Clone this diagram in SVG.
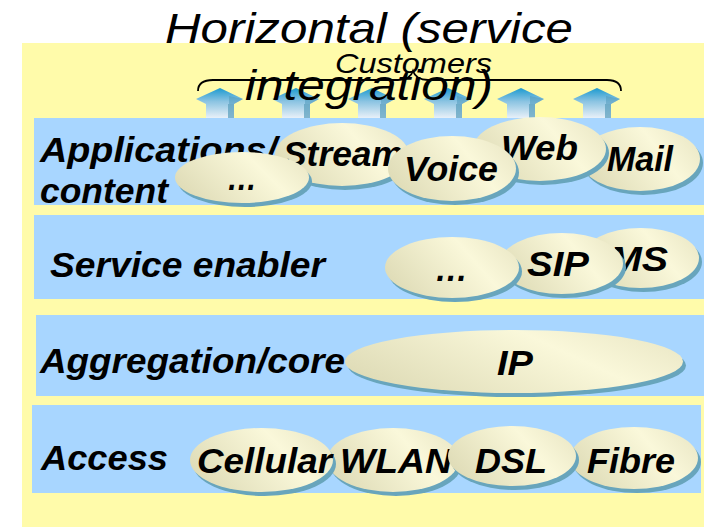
<svg xmlns="http://www.w3.org/2000/svg" width="704" height="527" viewBox="0 0 704 527">
  <defs>
    <linearGradient id="pill" x1="0" y1="0.7" x2="1" y2="0.3">
      <stop offset="0" stop-color="#DEDBB6"/>
      <stop offset="0.68" stop-color="#FAF8DA"/>
      <stop offset="1" stop-color="#ECE9C8"/>
    </linearGradient>
    <linearGradient id="arrowFill" x1="0" y1="0" x2="0" y2="1">
      <stop offset="0" stop-color="#1C9AD0"/>
      <stop offset="0.45" stop-color="#8CC4E2"/>
      <stop offset="1" stop-color="#E8F0F8"/>
    </linearGradient>
    <!-- upward customer arrow, apex at origin -->
    <g id="upArrow">
      <polygon points="0,0 23,11 14,16 14,30 -14,30 -14,16 -24,11" fill="url(#arrowFill)"/>
      <polygon points="8,16 14,16 14,30 8,30" fill="#5FA2BF" opacity="0.75"/>
      <polygon points="9,8 23,11 14,16 9,16" fill="#4E98BA" opacity="0.5"/>
    </g>
  </defs>
  <style>
    .layer { fill: #A8D6FF; }
    .pill { fill: url(#pill); }
    .shade { fill: #68A5BC; }
    .label { font-family: "Liberation Sans", Arial, sans-serif; font-weight: bold; font-style: italic; font-size: 35px; fill: #000; }
    .title { font-family: "Liberation Sans", Arial, sans-serif; font-style: italic; fill: #000; }
  </style>

  <!-- page background -->
  <rect x="0" y="0" width="704" height="527" fill="#FFFFFF"/>
  <rect x="22" y="43" width="682" height="484" fill="#FFFBAA"/>

  <!-- layer bands -->
  <g id="layer-applications">
    <rect class="layer" x="34" y="118" width="670" height="87"/>
    <text class="label" x="40" y="162" textLength="237" lengthAdjust="spacingAndGlyphs">Applications/</text>
    <text class="label" x="40" y="203" textLength="128" lengthAdjust="spacingAndGlyphs">content</text>
  </g>
  <g id="layer-service-enabler">
    <rect class="layer" x="34" y="215" width="670" height="84"/>
    <text class="label" x="50" y="277" textLength="275" lengthAdjust="spacingAndGlyphs">Service enabler</text>
  </g>
  <g id="layer-aggregation">
    <rect class="layer" x="36" y="315" width="668" height="81"/>
    <text class="label" x="40" y="373" textLength="305" lengthAdjust="spacingAndGlyphs">Aggregation/core</text>
  </g>
  <g id="layer-access">
    <rect class="layer" x="32" y="405" width="669" height="88"/>
    <text class="label" x="41" y="470" textLength="127" lengthAdjust="spacingAndGlyphs">Access</text>
  </g>

  <!-- customer arrows -->
  <g id="connectors">
    <use href="#upArrow" x="220" y="88"/>
    <use href="#upArrow" x="296" y="88"/>
    <use href="#upArrow" x="372" y="88"/>
    <use href="#upArrow" x="448" y="88"/>
    <use href="#upArrow" x="521" y="88"/>
    <use href="#upArrow" x="597" y="88"/>
  </g>

  <!-- applications / content -->
  <g id="app-stream">
    <ellipse class="shade" cx="345" cy="158.5" rx="67" ry="31.5"/>
    <ellipse class="pill" cx="342" cy="154.5" rx="67" ry="31.5"/>
    <text class="label" x="283" y="166" textLength="120" lengthAdjust="spacingAndGlyphs">Stream</text>
  </g>
  <g id="app-mail">
    <ellipse class="shade" cx="643" cy="163" rx="60" ry="32"/>
    <ellipse class="pill" cx="640" cy="159" rx="60" ry="32"/>
    <text class="label" x="607" y="171" textLength="66" lengthAdjust="spacingAndGlyphs">Mail</text>
  </g>
  <g id="app-web">
    <ellipse class="shade" cx="542.5" cy="153" rx="66.5" ry="32"/>
    <ellipse class="pill" cx="539.5" cy="149" rx="66.5" ry="32"/>
    <text class="label" x="501" y="160" textLength="77" lengthAdjust="spacingAndGlyphs">Web</text>
  </g>
  <g id="app-voice">
    <ellipse class="shade" cx="455" cy="172.5" rx="64" ry="32.5"/>
    <ellipse class="pill" cx="452" cy="168.5" rx="64" ry="32.5"/>
    <text class="label" x="404" y="181" textLength="94" lengthAdjust="spacingAndGlyphs">Voice</text>
  </g>
  <g id="app-more">
    <ellipse class="shade" cx="245" cy="181.5" rx="67" ry="25.5"/>
    <ellipse class="pill" cx="242" cy="177.5" rx="67" ry="25.5"/>
    <text class="label" x="227" y="190" textLength="30" lengthAdjust="spacingAndGlyphs">…</text>
  </g>

  <!-- service enablers -->
  <g id="svc-ims">
    <ellipse class="shade" cx="643.5" cy="262" rx="58.5" ry="30"/>
    <ellipse class="pill" cx="640.5" cy="258" rx="58.5" ry="30"/>
    <text class="label" x="598" y="271" textLength="70" lengthAdjust="spacingAndGlyphs">IMS</text>
  </g>
  <g id="svc-sip">
    <ellipse class="shade" cx="564.5" cy="267.5" rx="61.5" ry="30.5"/>
    <ellipse class="pill" cx="561.5" cy="263.5" rx="61.5" ry="30.5"/>
    <text class="label" x="527" y="276" textLength="62" lengthAdjust="spacingAndGlyphs">SIP</text>
  </g>
  <g id="svc-more">
    <ellipse class="shade" cx="455" cy="271.5" rx="67" ry="30.5"/>
    <ellipse class="pill" cx="452" cy="267.5" rx="67" ry="30.5"/>
    <text class="label" x="435" y="281" textLength="33" lengthAdjust="spacingAndGlyphs">…</text>
  </g>

  <!-- aggregation / core -->
  <g id="core-ip">
    <ellipse class="shade" cx="517" cy="365.5" rx="169" ry="31.5"/>
    <ellipse class="pill" cx="514" cy="361.5" rx="169" ry="31.5"/>
    <text class="label" x="497" y="375" textLength="36" lengthAdjust="spacingAndGlyphs">IP</text>
  </g>

  <!-- access -->
  <g id="acc-wlan">
    <ellipse class="shade" cx="396" cy="464" rx="66" ry="32"/>
    <ellipse class="pill" cx="393" cy="460" rx="66" ry="32"/>
    <text class="label" x="340" y="473" textLength="112" lengthAdjust="spacingAndGlyphs">WLAN</text>
  </g>
  <g id="acc-cellular">
    <ellipse class="shade" cx="264.5" cy="464" rx="71.5" ry="32"/>
    <ellipse class="pill" cx="261.5" cy="460" rx="71.5" ry="32"/>
    <text class="label" x="197" y="473" textLength="135" lengthAdjust="spacingAndGlyphs">Cellular</text>
  </g>
  <g id="acc-fibre">
    <ellipse class="shade" cx="637" cy="462" rx="64" ry="31"/>
    <ellipse class="pill" cx="634" cy="458" rx="64" ry="31"/>
    <text class="label" x="587" y="473" textLength="88" lengthAdjust="spacingAndGlyphs">Fibre</text>
  </g>
  <g id="acc-dsl">
    <ellipse class="shade" cx="515" cy="460" rx="64" ry="30"/>
    <ellipse class="pill" cx="512" cy="456" rx="64" ry="30"/>
    <text class="label" x="475" y="473" textLength="72" lengthAdjust="spacingAndGlyphs">DSL</text>
  </g>

  <!-- customers brace -->
  <g id="customers">
    <path d="M198,91 C198,84 203,80 213,80 L398,80 C407,80 411,77 413,71 C415,77 419,80 428,80 L607,80 C616,80 621,84 621,91" fill="none" stroke="#000" stroke-width="1.8"/>
    <text class="title" x="335" y="73" font-size="28" textLength="157" lengthAdjust="spacingAndGlyphs">Customers</text>
  </g>

  <!-- heading -->
  <g id="heading">
    <text class="title" x="165" y="43" font-size="43" textLength="408" lengthAdjust="spacingAndGlyphs">Horizontal (service</text>
    <text class="title" x="245" y="100" font-size="43" textLength="248" lengthAdjust="spacingAndGlyphs">integration)</text>
  </g>
</svg>
